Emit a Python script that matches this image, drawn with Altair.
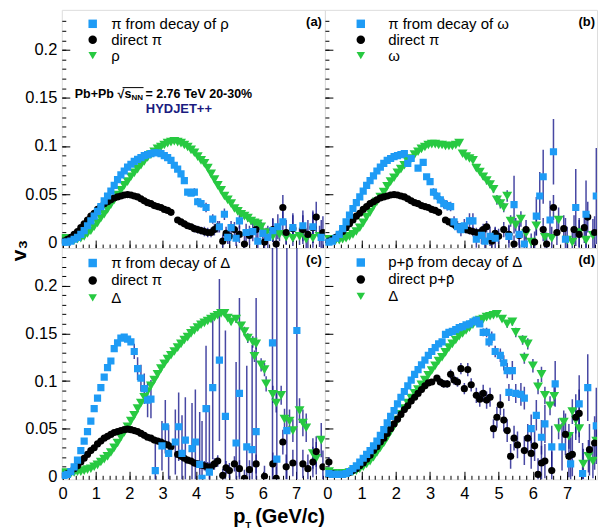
import altair as alt
import pandas as pd

FONT = "Liberation Sans"
BLUE = "#1e9bf5"
GREEN = "#27c941"
BLACK = "#000000"
ERRC = "#1a1a8c"
NAVY = "#1b1b80"

# ---------------- axis tick values ----------------
Y_MAJOR = [0.0, 0.05, 0.1, 0.15, 0.2]
Y_MINOR = [0.0, 0.01, 0.02, 0.03, 0.04, 0.05, 0.06, 0.07, 0.08, 0.09, 0.1, 0.11, 0.12,
           0.13, 0.14, 0.15, 0.16, 0.17, 0.18, 0.19, 0.2, 0.21, 0.22, 0.23]
X_MAJOR = [0, 1, 2, 3, 4, 5, 6, 7]
X_MINOR = [0.0, 0.2, 0.4, 0.6, 0.8, 1.0, 1.2, 1.4, 1.6, 1.8, 2.0, 2.2, 2.4, 2.6, 2.8, 3.0,
           3.2, 3.4, 3.6, 3.8, 4.0, 4.2, 4.4, 4.6, 4.8, 5.0, 5.2, 5.4, 5.6, 5.8, 6.0, 6.2,
           6.4, 6.6, 6.8, 7.0, 7.2, 7.4, 7.6, 7.8]

# ---------------- direct pi (panels a, b, c) ----------------
DPI_PT = [0.05, 0.15, 0.25, 0.35, 0.45, 0.55, 0.65, 0.75, 0.85, 0.95, 1.05, 1.15, 1.25, 1.35,
          1.45, 1.55, 1.65, 1.75, 1.85, 1.95, 2.05, 2.15, 2.25, 2.35, 2.45, 2.55, 2.65, 2.75,
          2.85, 2.95, 3.05, 3.15, 3.25, 3.45, 3.55, 3.65, 3.75, 3.85, 3.95, 4.05, 4.15, 4.25,
          4.35, 4.45, 4.55, 4.65, 4.8, 4.9, 5.0, 5.15, 5.3, 5.45, 5.6, 5.8, 6.05, 6.3, 6.4,
          6.6, 6.7, 6.9, 7.2, 7.35, 7.5, 7.6, 7.8]
DPI_V = [0.001, 0.003, 0.005, 0.008, 0.011, 0.015, 0.019, 0.023, 0.027, 0.030, 0.034, 0.037,
         0.040, 0.042, 0.044, 0.046, 0.047, 0.048, 0.049, 0.0495, 0.049, 0.048, 0.047, 0.045,
         0.043, 0.041, 0.040, 0.038, 0.037, 0.036, 0.034, 0.033, 0.031, 0.023, 0.021, 0.019,
         0.017, 0.016, 0.014, 0.013, 0.012, 0.011, 0.010, 0.010, 0.013, 0.016, 0.001, 0.009,
         0.006, 0.013, 0.008, -0.002, 0.007, 0.013, 0.000, 0.013, -0.002, 0.036, 0.010, 0.014,
         0.013, 0.008, 0.015, 0.026, 0.010]
DPI_E = [0, 0, 0, 0, 0, 0, 0, 0, 0, 0, 0, 0, 0, 0, 0, 0, 0, 0, 0, 0, 0, 0, 0, 0, 0, 0, 0, 0,
         0, 0, 0, 0, 0, 0.003, 0.003, 0.003, 0.003, 0.003, 0.004, 0.004, 0.004, 0.005, 0.005,
         0.005, 0.006, 0.006, 0.007, 0.007, 0.008, 0.008, 0.009, 0.009, 0.010, 0.010, 0.011,
         0.012, 0.012, 0.013, 0.013, 0.014, 0.015, 0.015, 0.016, 0.016, 0.017]

# ---------------- panel (a): rho ----------------
RHOPI_PT = [0.05, 0.15, 0.25, 0.35, 0.45, 0.55, 0.65, 0.75, 0.85, 0.95, 1.05, 1.15, 1.25, 1.35,
            1.45, 1.55, 1.65, 1.75, 1.85, 1.95, 2.05, 2.15, 2.25, 2.35, 2.45, 2.55, 2.65, 2.75,
            2.85, 2.95, 3.05, 3.15, 3.25, 3.35, 3.45, 3.55, 3.65, 3.75, 3.85, 3.95, 4.05, 4.15,
            4.3, 4.5, 4.7, 4.85, 4.95, 5.05, 5.2, 5.3, 5.5, 5.7, 5.85, 6.0, 6.15, 6.3, 6.45, 6.6,
            6.9, 7.2, 7.5, 7.75]
RHOPI_V = [0.000, 0.000, 0.001, 0.003, 0.005, 0.008, 0.012, 0.017, 0.022, 0.027, 0.032, 0.037,
           0.043, 0.048, 0.053, 0.059, 0.065, 0.070, 0.074, 0.078, 0.081, 0.084, 0.086, 0.088,
           0.090, 0.091, 0.092, 0.093, 0.093, 0.092, 0.090, 0.088, 0.085, 0.080, 0.076, 0.071,
           0.064, 0.052, 0.051, 0.052, 0.042, 0.040, 0.036, 0.024, 0.016, 0.029, 0.005, 0.015,
           0.004, 0.022, 0.010, 0.011, 0.001, 0.009, 0.005, 0.012, 0.016, 0.021, 0.015, 0.017,
           0.016, 0.005]
RHOPI_E = [0, 0, 0, 0, 0, 0, 0, 0, 0, 0, 0, 0, 0, 0, 0, 0, 0, 0, 0, 0, 0, 0, 0, 0, 0, 0, 0, 0,
           0, 0, 0, 0, 0, 0.002, 0.002, 0.002, 0.003, 0.003, 0.003, 0.004, 0.004, 0.004, 0.005,
           0.005, 0.006, 0.006, 0.007, 0.007, 0.008, 0.008, 0.009, 0.010, 0.010, 0.011, 0.012,
           0.012, 0.013, 0.014, 0.015, 0.016, 0.017, 0.018]
RHO_PT = [0.05, 0.15, 0.25, 0.35, 0.45, 0.55, 0.65, 0.75, 0.85, 0.95, 1.05, 1.15, 1.25, 1.35,
          1.45, 1.55, 1.65, 1.75, 1.85, 1.95, 2.05, 2.15, 2.25, 2.35, 2.45, 2.55, 2.65, 2.75,
          2.85, 2.95, 3.05, 3.15, 3.25, 3.35, 3.45, 3.55, 3.65, 3.75, 3.85, 3.95, 4.05, 4.15,
          4.25, 4.35, 4.45, 4.55, 4.65, 4.75, 4.85, 4.95, 5.05, 5.15, 5.25, 5.35, 5.45, 5.55,
          5.65, 5.75, 5.85, 5.95, 6.1, 6.3, 6.5, 6.7, 6.9, 7.1, 7.3, 7.5, 7.7]
RHO_V = [0.004, 0.002, 0.002, 0.002, 0.003, 0.004, 0.006, 0.009, 0.012, 0.016,
         0.020, 0.025, 0.029, 0.034, 0.039, 0.044, 0.049, 0.054, 0.059, 0.063,
         0.068, 0.072, 0.076, 0.080, 0.084, 0.088, 0.091, 0.094, 0.097, 0.099,
         0.101, 0.103, 0.104, 0.105, 0.104, 0.103, 0.101, 0.099, 0.096, 0.093,
         0.089, 0.085, 0.082, 0.077, 0.071, 0.065, 0.059, 0.054, 0.048, 0.044,
         0.040, 0.035, 0.032, 0.029, 0.027, 0.025, 0.022, 0.020, 0.019, 0.016,
         0.010, 0.006, 0.008, 0.005, 0.004, 0.006, 0.003, 0.004, 0.006]
RHO_E = [0, 0, 0, 0, 0, 0, 0, 0, 0, 0, 0, 0, 0, 0, 0, 0, 0, 0, 0, 0, 0, 0, 0, 0, 0, 0, 0, 0,
         0, 0, 0, 0, 0, 0, 0, 0, 0, 0, 0, 0, 0, 0, 0, 0, 0, 0, 0, 0, 0, 0,
         0.002, 0.002, 0.003, 0.003, 0.003, 0.004, 0.004, 0.004, 0.005, 0.005,
         0.005, 0.006, 0.007, 0.007, 0.008, 0.009, 0.010, 0.010, 0.011]

# ---------------- panel (b): omega ----------------
OMGPI_PT = [0.05, 0.15, 0.25, 0.35, 0.45, 0.55, 0.65, 0.75, 0.85, 0.95, 1.05, 1.15, 1.25, 1.35,
            1.45, 1.55, 1.65, 1.75, 1.85, 1.95, 2.05, 2.15, 2.25, 2.35, 2.45, 2.65, 2.8, 2.9,
            3.0, 3.1, 3.2, 3.3, 3.4, 3.5, 3.6, 3.7, 3.8, 3.9, 4.0, 4.15, 4.25, 4.35, 4.5, 4.6,
            4.75, 4.9, 5.3, 5.45, 5.6, 5.75, 6.1, 6.2, 6.3, 6.5, 6.6, 6.95, 7.25, 7.55, 7.85]
OMGPI_V = [0.000, 0.001, 0.004, 0.008, 0.014, 0.021, 0.028, 0.035, 0.041, 0.047, 0.053, 0.059,
           0.064, 0.069, 0.074, 0.078, 0.082, 0.085, 0.087, 0.089, 0.090, 0.091, 0.092, 0.082,
           0.087, 0.077, 0.083, 0.068, 0.063, 0.052, 0.048, 0.044, 0.040, 0.038, 0.037, 0.021,
           0.016, 0.013, 0.017, 0.022, 0.022, 0.003, 0.007, 0.001, 0.006, 0.004, 0.006, 0.039,
           0.008, -0.002, 0.027, 0.048, 0.068, 0.023, 0.094, 0.003, 0.036, 0.029, 0.048]
OMGPI_E = [0, 0, 0, 0, 0, 0, 0, 0, 0, 0, 0, 0, 0, 0, 0, 0, 0, 0, 0, 0, 0, 0, 0,
           0.002, 0.002, 0.003, 0.003, 0.003, 0.003, 0.004, 0.004, 0.004, 0.005, 0.005, 0.005,
           0.006, 0.006, 0.007, 0.007, 0.008, 0.008, 0.009, 0.009, 0.010, 0.010, 0.011, 0.012,
           0.030, 0.014, 0.015, 0.020, 0.025, 0.028, 0.020, 0.034, 0.022, 0.040, 0.035, 0.050]
OMG_PT = [0.05, 0.15, 0.25, 0.35, 0.45, 0.55, 0.65, 0.75, 0.85, 0.95, 1.05, 1.15, 1.25, 1.35,
          1.45, 1.55, 1.65, 1.75, 1.85, 1.95, 2.05, 2.15, 2.25, 2.35, 2.45, 2.55, 2.65, 2.75,
          2.85, 2.95, 3.05, 3.15, 3.25, 3.35, 3.45, 3.55, 3.65, 3.75, 3.85, 3.95, 4.05, 4.15,
          4.25, 4.35, 4.45, 4.55, 4.65, 4.75, 4.85, 4.95, 5.05, 5.15, 5.25, 5.35, 5.5, 5.65,
          5.8, 5.95, 6.1, 6.35, 6.55, 6.75, 7.0, 7.15, 7.35, 7.55, 7.75]
OMG_V = [0.003, 0.002, 0.002, 0.002, 0.003, 0.004, 0.006, 0.008, 0.011, 0.015,
         0.020, 0.026, 0.031, 0.037, 0.042, 0.047, 0.052, 0.058, 0.063, 0.067,
         0.072, 0.076, 0.080, 0.084, 0.087, 0.091, 0.094, 0.097, 0.099, 0.101,
         0.102, 0.102, 0.101, 0.101, 0.100, 0.100, 0.100, 0.101, 0.103, 0.092,
         0.089, 0.087, 0.085, 0.077, 0.073, 0.068, 0.064, 0.060, 0.055, 0.044,
         0.040, 0.036, 0.048, 0.022, 0.018, 0.024, 0.009, 0.000, 0.017, 0.005,
         0.004, 0.023, 0.002, 0.000, 0.010, 0.002, 0.007]
OMG_E = [0, 0, 0, 0, 0, 0, 0, 0, 0, 0, 0, 0, 0, 0, 0, 0, 0, 0, 0, 0, 0, 0, 0, 0, 0, 0, 0, 0,
         0, 0, 0, 0, 0, 0, 0, 0, 0, 0, 0, 0,
         0.002, 0.002, 0.002, 0.003, 0.003, 0.003, 0.004, 0.004, 0.004, 0.005, 0.005, 0.005,
         0.006, 0.006, 0.007, 0.008, 0.008, 0.009, 0.010, 0.011, 0.012, 0.013, 0.014, 0.014,
         0.015, 0.016, 0.017]

# ---------------- panel (c): Delta, pions ----------------
DELPI_PT = [0.05, 0.15, 0.25, 0.35, 0.45, 0.55, 0.65, 0.75, 0.85, 0.95, 1.05, 1.15, 1.25, 1.35,
            1.45, 1.55, 1.65, 1.75, 1.85, 1.95, 2.05, 2.15, 2.25, 2.35, 2.45, 2.55, 2.65, 2.78,
            2.98, 3.08, 3.18, 3.38, 3.48, 3.58, 3.68, 3.88, 3.98, 4.11, 4.18, 4.3, 4.4, 4.5,
            4.7, 4.88, 5.2, 5.3, 5.52, 5.68, 5.8, 6.29, 6.42, 6.72, 7.02]
DELPI_V = [0.001, 0.002, 0.005, 0.010, 0.017, 0.027, 0.037, 0.047, 0.058, 0.071, 0.082, 0.093,
           0.104, 0.114, 0.121, 0.134, 0.140, 0.145, 0.146, 0.144, 0.141, 0.131, 0.113, 0.103,
           0.092, 0.080, 0.081, 0.006, 0.032, 0.052, 0.024, 0.036, 0.052, 0.024, 0.038, 0.029,
           0.036, 0.0125, -0.002, 0.071, 0.0045, 0.093, 0.122, 0.063, 0.035, 0.087, 0.031,
           0.028, 0.047, 0.140, 0.018, 0.048, 0.153]
DELPI_E = [0, 0, 0, 0, 0, 0, 0, 0, 0, 0, 0, 0, 0, 0, 0, 0, 0, 0, 0, 0, 0,
           0.008, 0.012, 0.014, 0.016, 0.018, 0.020, 0.028, 0.026, 0.028, 0.030, 0.034, 0.036,
           0.040, 0.045, 0.048, 0.055, 0.055, 0.060, 0.066, 0.070, 0.075, 0.085, 0.090, 0.085,
           0.100, 0.085, 0.110, 0.140, 0.250, 0.250, 0.250, 0.250]
DEL_PT = [0.05, 0.15, 0.25, 0.35, 0.45, 0.55, 0.65, 0.75, 0.85, 0.95, 1.05, 1.15, 1.25, 1.35,
          1.45, 1.55, 1.65, 1.75, 1.85, 1.95, 2.05, 2.15, 2.25, 2.35, 2.45, 2.55, 2.65, 2.75,
          2.85, 2.95, 3.05, 3.15, 3.25, 3.35, 3.45, 3.55, 3.65, 3.75, 3.85, 3.95, 4.05, 4.15,
          4.25, 4.35, 4.45, 4.55, 4.65, 4.75, 4.85, 4.95, 5.05, 5.2, 5.35, 5.45, 5.55, 5.7,
          5.75, 5.8, 5.95, 6.05, 6.1, 6.3, 6.4, 6.55, 6.65, 6.8, 6.9, 7.1, 7.2, 7.3, 7.5, 7.6,
          7.75]
DEL_V = [0.004, 0.003, 0.003, 0.004, 0.005, 0.005, 0.006, 0.007, 0.008, 0.010,
         0.012, 0.015, 0.018, 0.021, 0.025, 0.030, 0.035, 0.041, 0.046, 0.052,
         0.058, 0.064, 0.071, 0.077, 0.083, 0.089, 0.095, 0.101, 0.107, 0.113,
         0.118, 0.123, 0.127, 0.131, 0.135, 0.139, 0.143, 0.146, 0.150, 0.153,
         0.156, 0.159, 0.161, 0.163, 0.165, 0.167, 0.169, 0.171, 0.171,
         0.166, 0.162, 0.165, 0.158, 0.152, 0.145, 0.141, 0.126, 0.139, 0.117, 0.112, 0.097,
         0.086, 0.077, 0.085, 0.060, 0.058, 0.048, 0.069, 0.056, 0.051, 0.024, 0.019, 0.038]
DEL_E = [0, 0, 0, 0, 0, 0, 0, 0, 0, 0, 0, 0, 0, 0, 0, 0, 0, 0, 0, 0, 0, 0, 0, 0, 0, 0, 0, 0,
         0, 0, 0, 0, 0, 0, 0, 0, 0, 0, 0, 0, 0, 0, 0, 0, 0, 0, 0, 0, 0,
         0.003, 0.003, 0.004, 0.004, 0.005, 0.005, 0.006, 0.006, 0.006, 0.007, 0.007, 0.008,
         0.009, 0.010, 0.010, 0.011, 0.012, 0.012, 0.013, 0.014, 0.015, 0.016, 0.017, 0.018]

# ---------------- panel (d): Delta, protons ----------------
DELP_PT = [0.05, 0.15, 0.25, 0.35, 0.45, 0.55, 0.65, 0.75, 0.85, 0.95, 1.05, 1.15, 1.25, 1.35,
           1.45, 1.55, 1.65, 1.75, 1.85, 1.95, 2.05, 2.15, 2.25, 2.35, 2.45, 2.55, 2.65, 2.75,
           2.85, 2.95, 3.05, 3.15, 3.25, 3.35, 3.45, 3.55, 3.65, 3.75, 3.85, 3.95, 4.05, 4.15,
           4.25, 4.35, 4.45, 4.55, 4.65, 4.72, 4.8, 4.9, 5.05, 5.15, 5.25, 5.3, 5.4, 5.5, 5.65,
           5.75, 5.95, 6.1, 6.25, 6.35, 6.55, 6.65, 6.85, 7.1, 7.35, 7.45, 7.6, 7.85]
DELP_V = [0.003, 0.002, 0.002, 0.002, 0.002, 0.003, 0.005, 0.008, 0.011, 0.015,
          0.019, 0.023, 0.027, 0.032, 0.037, 0.043, 0.049, 0.056, 0.063, 0.069,
          0.076, 0.083, 0.089, 0.095, 0.101, 0.107, 0.112, 0.117, 0.122, 0.127,
          0.131, 0.135, 0.139, 0.141, 0.149, 0.151, 0.152, 0.154, 0.156, 0.157,
          0.159, 0.160, 0.162, 0.164, 0.160,
          0.151, 0.151, 0.141, 0.146, 0.131, 0.127, 0.119, 0.111, 0.088, 0.111, 0.087, 0.086,
          0.082, 0.050, 0.064, 0.041, 0.055, 0.031, 0.097, 0.031, 0.013, 0.076, 0.003, 0.093,
          0.053]
DELP_E = [0, 0, 0, 0, 0, 0, 0, 0, 0, 0, 0, 0, 0, 0, 0, 0, 0, 0, 0, 0, 0, 0, 0, 0, 0, 0, 0, 0,
          0, 0, 0, 0, 0, 0, 0, 0, 0, 0, 0, 0,
          0.002, 0.002, 0.003, 0.003, 0.003,
          0.004, 0.005, 0.005, 0.006, 0.006, 0.007, 0.008, 0.008, 0.009, 0.010, 0.010, 0.012,
          0.012, 0.015, 0.016, 0.018, 0.020, 0.022, 0.024, 0.025, 0.028, 0.030, 0.032, 0.035,
          0.040]
DELD_PT = [0.05, 0.15, 0.25, 0.35, 0.45, 0.55, 0.65, 0.75, 0.85, 0.95, 1.05, 1.15, 1.25, 1.35,
           1.45, 1.55, 1.65, 1.75, 1.85, 1.95, 2.05, 2.15, 2.25, 2.35, 2.45, 2.55, 2.65, 2.75,
           2.85, 2.95, 3.05, 3.15, 3.25, 3.35, 3.45, 3.55, 3.65, 3.75, 3.85, 3.95, 4.05, 4.15,
           4.25, 4.35, 4.45, 4.55, 4.65, 4.75, 4.85, 4.95, 5.1, 5.25, 5.4, 5.5, 5.7, 5.75,
           5.85, 6.0, 6.15, 6.25, 6.35, 6.5, 6.62, 6.75, 6.9, 7.05, 7.15, 7.25, 7.35, 7.47,
           7.62, 7.75, 7.85]
DELD_V = [0.005, 0.003, 0.003, 0.003, 0.003, 0.003, 0.004, 0.005, 0.006, 0.008,
          0.010, 0.013, 0.016, 0.020, 0.025, 0.030, 0.035, 0.041, 0.047, 0.053,
          0.059, 0.065, 0.071, 0.077, 0.082, 0.087, 0.091, 0.096, 0.101, 0.106,
          0.111, 0.116, 0.121, 0.125, 0.130, 0.135, 0.139, 0.143, 0.147, 0.150,
          0.153, 0.156, 0.159, 0.162, 0.164, 0.165, 0.167, 0.168, 0.169, 0.170,
          0.165, 0.160, 0.162, 0.151, 0.143, 0.124, 0.139, 0.116, 0.094, 0.107, 0.085, 0.074,
          0.084, 0.050, 0.057, 0.042, 0.068, 0.059, 0.050, 0.013, 0.021, 0.016, 0.037]
DELD_E = [0, 0, 0, 0, 0, 0, 0, 0, 0, 0, 0, 0, 0, 0, 0, 0, 0, 0, 0, 0, 0, 0, 0, 0, 0, 0, 0, 0,
          0, 0, 0, 0, 0, 0, 0, 0, 0, 0, 0, 0, 0, 0, 0, 0, 0, 0, 0, 0, 0, 0,
          0.003, 0.004, 0.004, 0.005, 0.005, 0.006, 0.006, 0.007, 0.008, 0.008, 0.009, 0.010,
          0.010, 0.011, 0.012, 0.013, 0.013, 0.014, 0.015, 0.016, 0.017, 0.018, 0.019]
DIRP_PT = [0.05, 0.15, 0.25, 0.35, 0.45, 0.55, 0.65, 0.75, 0.85, 0.95, 1.05, 1.15, 1.25, 1.35,
           1.45, 1.55, 1.65, 1.75, 1.85, 1.95, 2.05, 2.15, 2.25, 2.35, 2.45, 2.55, 2.65, 2.75,
           2.85, 2.95, 3.05, 3.2, 3.3, 3.4, 3.5, 3.6, 3.7, 3.8, 3.9, 4.0, 4.1, 4.2, 4.35, 4.45,
           4.55, 4.65, 4.75, 4.85, 4.95, 5.05, 5.15, 5.25, 5.35, 5.45, 5.55, 5.75, 5.85, 5.95,
           6.05, 6.15, 6.25, 6.35, 6.55, 6.95, 7.05, 7.15, 7.25, 7.35, 7.65, 7.8]
DIRP_V = [0.015, 0.003, 0.002, 0.002, 0.002, 0.003, 0.004, 0.006, 0.008, 0.011,
          0.014, 0.018, 0.022, 0.027, 0.031, 0.036, 0.040, 0.045, 0.050, 0.055,
          0.060, 0.065, 0.070, 0.074, 0.079, 0.083, 0.087, 0.091, 0.095, 0.098,
          0.099, 0.103, 0.099, 0.097, 0.097, 0.107, 0.101, 0.099, 0.113, 0.092, 0.112, 0.096,
          0.085, 0.081, 0.087, 0.080, 0.083, 0.050, 0.062, 0.075, 0.059, 0.048, 0.021, 0.040,
          0.033, 0.027, 0.040, 0.024, 0.032, 0.002, 0.014, 0.016, 0.006, 0.044, 0.021, 0.023,
          0.062, 0.066, 0.028, 0.035]
DIRP_E = [0.005, 0, 0, 0, 0, 0, 0, 0, 0, 0, 0, 0, 0, 0, 0, 0, 0, 0, 0, 0, 0, 0, 0, 0, 0, 0,
          0, 0, 0, 0,
          0.003, 0.003, 0.004, 0.004, 0.004, 0.005, 0.005, 0.005, 0.006, 0.006, 0.007, 0.007,
          0.008, 0.008, 0.009, 0.009, 0.010, 0.010, 0.011, 0.011, 0.012, 0.012, 0.013, 0.013,
          0.014, 0.015, 0.015, 0.016, 0.016, 0.017, 0.018, 0.018, 0.020, 0.022, 0.022, 0.023,
          0.024, 0.025, 0.027, 0.028]

LAB_A = ["π from decay of ρ", "direct π", "ρ"]
LAB_B = ["π from decay of ω", "direct π", "ω"]
LAB_C = ["π from decay of Δ", "direct π", "Δ"]
LAB_D = ["p+p\u0304 from decay of Δ", "direct p+p\u0304", "Δ"]


def frame(labels, blue, black, green):
    rows = []
    # draw order: green first, then black, blue on top
    for lab, (pts, vals, errs) in [(labels[2], green), (labels[1], black), (labels[0], blue)]:
        assert len(pts) == len(vals) == len(errs), (lab, len(pts), len(vals), len(errs))
        for p, v, e in zip(pts, vals, errs):
            rows.append({"pt": p, "v": v, "err": e, "series": lab})
    return pd.DataFrame(rows)


def txt(s, x, y, size, weight="bold", color="black", align="left", baseline="middle"):
    return alt.Chart(pd.DataFrame({"t": [s]})).mark_text(
        align=align, baseline=baseline, font=FONT, fontSize=size, fontWeight=weight,
        color=color).encode(x=alt.value(x), y=alt.value(y), text="t:N")


COMMON_AX = dict(domain=False, grid=False, tickColor="black", tickWidth=1, labelFont=FONT,
                 labelFontSize=16.5, labelColor="black", labelOverlap=False, labelFlush=False,
                 title=None)


def panel(df, labels, width, height, xdom, ydom, xlabels, ylabels, leg, extras, ytitle=False):
    xs = alt.Scale(domain=xdom, nice=False, zero=False)
    ys = alt.Scale(domain=ydom, nice=False, zero=False)
    # inward ticks: the axis line is moved inside the frame (negative offset) and its
    # ticks reach back to the frame
    x_major = alt.Axis(orient="bottom", values=X_MAJOR, offset=-8, tickSize=8, labels=xlabels,
                       labelPadding=6, format="d", **COMMON_AX)
    x_minor = alt.Axis(orient="bottom", values=X_MINOR, offset=-4, tickSize=4, labels=False,
                       **COMMON_AX)
    y_minor = alt.Axis(orient="left", values=Y_MINOR, offset=-4, tickSize=4, labels=False,
                       **COMMON_AX)
    yargs = dict(COMMON_AX)
    if ytitle:
        yargs.update(title="v₃", titleX=-50, titleY=2, titleAngle=270, titleFont=FONT,
                     titleFontSize=21, titleFontWeight="bold", titleAlign="center",
                     titleBaseline="middle", titleColor="black")
    y_major = alt.Axis(orient="left", values=Y_MAJOR, offset=-8, tickSize=8, labels=ylabels,
                       labelPadding=5, format="~g", **yargs)

    err = alt.Chart(df).transform_filter("datum.err > 0").transform_calculate(
        lo="datum.v - datum.err", hi="datum.v + datum.err"
    ).mark_rule(clip=True, color=ERRC, opacity=0.8, strokeWidth=1.5).encode(
        x=alt.X("pt:Q", scale=xs, axis=x_minor),
        y=alt.Y("lo:Q", scale=ys, axis=y_minor),
        y2="hi:Q",
    )
    pts = alt.Chart(df).mark_point(filled=True, opacity=1, clip=True, strokeWidth=0).encode(
        x=alt.X("pt:Q", scale=xs, axis=x_major),
        y=alt.Y("v:Q", scale=ys, axis=y_major),
        color=alt.Color("series:N", scale=alt.Scale(domain=labels, range=[BLUE, BLACK, GREEN]),
                        legend=leg),
        shape=alt.Shape("series:N", scale=alt.Scale(domain=labels,
                        range=["square", "circle", "triangle-down"]), legend=leg),
        size=alt.condition(alt.datum.series == labels[2], alt.value(100), alt.value(52)),
    )
    return alt.layer(err, pts, *extras).resolve_axis(x="independent", y="independent") \
        .properties(width=width, height=height)


def legend(x, y, rowpad, offset):
    return alt.Legend(orient="none", legendX=x, legendY=y, direction="vertical", title=None,
                      padding=0, rowPadding=rowpad, labelOffset=offset, labelFont=FONT,
                      labelFontSize=15, labelColor="black", symbolStrokeWidth=0,
                      symbolSize=72, labelLimit=300)


DPI = (DPI_PT, DPI_V, DPI_E)
df_a = frame(LAB_A, (RHOPI_PT, RHOPI_V, RHOPI_E), DPI, (RHO_PT, RHO_V, RHO_E))
df_b = frame(LAB_B, (OMGPI_PT, OMGPI_V, OMGPI_E), DPI, (OMG_PT, OMG_V, OMG_E))
df_c = frame(LAB_C, (DELPI_PT, DELPI_V, DELPI_E), DPI, (DEL_PT, DEL_V, DEL_E))
df_d = frame(LAB_D, (DELP_PT, DELP_V, DELP_E), (DIRP_PT, DIRP_V, DIRP_E),
             (DELD_PT, DELD_V, DELD_E))

WL, WR, HT, HB = 264, 273, 239, 232
YDOM_T = [-0.0062, 0.2417]
YDOM_B = [-0.0031, 0.2395]
XDOM_L = [-0.02, 7.86]
XDOM_R = [-0.067, 7.87]

overline = alt.Chart(pd.DataFrame({"t": [0]})).mark_rule(color="black", strokeWidth=1).encode(
    x=alt.value(61), x2=alt.value(82), y=alt.value(78))
extras_a = [
    txt("(a)", 261, 12, 13, align="right"),
    txt("Pb+Pb", 13, 84, 12.5),
    txt("√s", 56, 84, 12.5),
    txt("NN", 70, 88, 8),
    txt("= 2.76 TeV 20-30%", 84, 84, 12.5),
    overline,
    txt("HYDJET++", 117.5, 99, 13, color=NAVY, align="center"),
]
extras_b = [txt("(b)", 271, 12, 13, align="right")]
extras_c = [
    txt("(c)", 261, 12, 13, align="right"),
    txt("p", 172, 276, 20, baseline="alphabetic"),
    txt("T", 184, 281, 10, baseline="alphabetic"),
    txt("(GeV/c)", 264, 276, 20, align="right", baseline="alphabetic"),
]
extras_d = [txt("(d)", 271, 12, 13, align="right")]

pa = panel(df_a, LAB_A, WL, HT, XDOM_L, YDOM_T, False, True, legend(23.5, 6.5, -3.5, 11),
           extras_a)
pb = panel(df_b, LAB_B, WR, HT, XDOM_R, YDOM_T, False, False, legend(28.5, 6.5, -3, 20),
           extras_b)
pc = panel(df_c, LAB_C, WL, HB, XDOM_L, YDOM_B, True, True, legend(23.5, 7.5, 1.5, 11),
           extras_c, ytitle=True)
pd_ = panel(df_d, LAB_D, WR, HB, XDOM_R, YDOM_B, True, False, legend(28.5, 7, 1, 20), extras_d)

chart = alt.concat(pa, pb, pc, pd_, columns=2, spacing=0, bounds="flush").resolve_scale(
    color="independent", shape="independent"
).properties(
    padding={"left": 8, "top": 8, "right": 2, "bottom": 2}, background="white"
).configure_view(stroke="black", strokeWidth=1).configure(font=FONT)

chart.save("out.html", embed_options={"renderer": "svg", "actions": False})
